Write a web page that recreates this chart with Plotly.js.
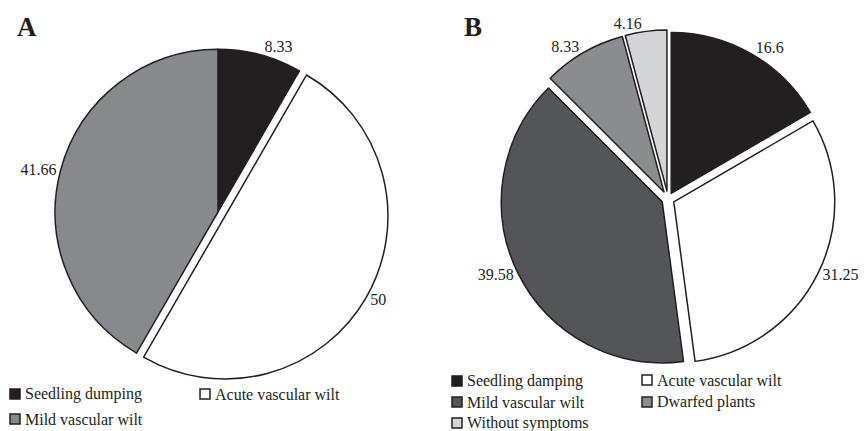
<!DOCTYPE html>
<html>
<head>
<meta charset="utf-8">
<script src="https://cdn.plot.ly/plotly-3.0.1.min.js"></script>
<style>
html,body{margin:0;padding:0;background:#fff;}
#chart{width:866px;height:431px;}
</style>
</head>
<body>
<div id="chart"></div>
<script>
// ---- data ----
var categoriesA = ["Seedling dumping", "Acute vascular wilt", "Mild vascular wilt"];
var valuesA = [8.33, 50, 41.66];
var colorsA = ["#231f20", "#ffffff", "#88898c"];
var pullA = [0, 0.05, 0];

var categoriesB = ["Seedling damping", "Acute vascular wilt", "Mild vascular wilt", "Dwarfed plants", "Without symptoms"];
var valuesB = [16.6, 31.25, 39.58, 8.33, 4.16];
var colorsB = ["#231f20", "#ffffff", "#545558", "#8b8c8f", "#d4d5d7"];
var pullB = [0.04, 0.04, 0.04, 0.05, 0.05];

var panelLabels = ["A", "B"];

// ---- layout helpers ----
var W = 866, H = 431;
function px(x) { return x / W; }
function py(y) { return 1 - y / H; }
var FONT = "Liberation Serif, Times New Roman, serif";
var INK = "#231f20";

var pieCommon = {
  type: "pie",
  sort: false,
  direction: "clockwise",
  rotation: 0,
  texttemplate: "%{value}",
  textposition: "outside",
  outsidetextfont: {family: FONT, size: 16, color: INK},
  hoverinfo: "none",
  showlegend: false
};

var traceA = Object.assign({}, pieCommon, {
  labels: categoriesA,
  values: valuesA,
  pull: pullA,
  marker: {colors: colorsA, line: {color: INK, width: 1.5}},
  domain: {x: [px(47), px(389)], y: [py(383), py(41)]}
});

var traceB = Object.assign({}, pieCommon, {
  labels: categoriesB,
  values: valuesB,
  pull: pullB,
  marker: {colors: colorsB, line: {color: INK, width: 1.5}},
  domain: {x: [px(499), px(837)], y: [py(368), py(30)]}
});

// ---- custom legends ----
var shapes = [];
var annotations = [];
function addLegend(cats, cols, slots) {
  for (var i = 0; i < cats.length; i++) {
    var s = slots[i];
    shapes.push({
      type: "rect", xref: "paper", yref: "paper",
      x0: px(s[0]), x1: px(s[0] + 10), y0: py(s[1] + 5), y1: py(s[1] - 5),
      fillcolor: cols[i], line: {color: INK, width: 1.5}
    });
    annotations.push({
      xref: "paper", yref: "paper", x: px(s[0] + 13), y: py(s[1]),
      xanchor: "left", yanchor: "middle", showarrow: false,
      text: cats[i], font: {family: FONT, size: 16, color: INK}
    });
  }
}
addLegend(categoriesA, colorsA, [[10, 394], [200, 394], [10, 419]]);
addLegend(categoriesB, colorsB, [[452, 381], [642, 380], [452, 402], [642, 402], [452, 423]]);

annotations.push({xref: "paper", yref: "paper", x: px(15), y: py(27), xanchor: "left", yanchor: "middle",
  showarrow: false, text: "<b>" + panelLabels[0] + "</b>", font: {family: FONT, size: 27, color: INK}});
annotations.push({xref: "paper", yref: "paper", x: px(462), y: py(27), xanchor: "left", yanchor: "middle",
  showarrow: false, text: "<b>" + panelLabels[1] + "</b>", font: {family: FONT, size: 27, color: INK}});

var layout = {
  width: W, height: H,
  margin: {l: 0, r: 0, t: 0, b: 0},
  paper_bgcolor: "#ffffff",
  plot_bgcolor: "#ffffff",
  showlegend: false,
  shapes: shapes,
  annotations: annotations
};

Plotly.newPlot("chart", [traceA, traceB], layout, {staticPlot: true, displayModeBar: false});
</script>
</body>
</html>
